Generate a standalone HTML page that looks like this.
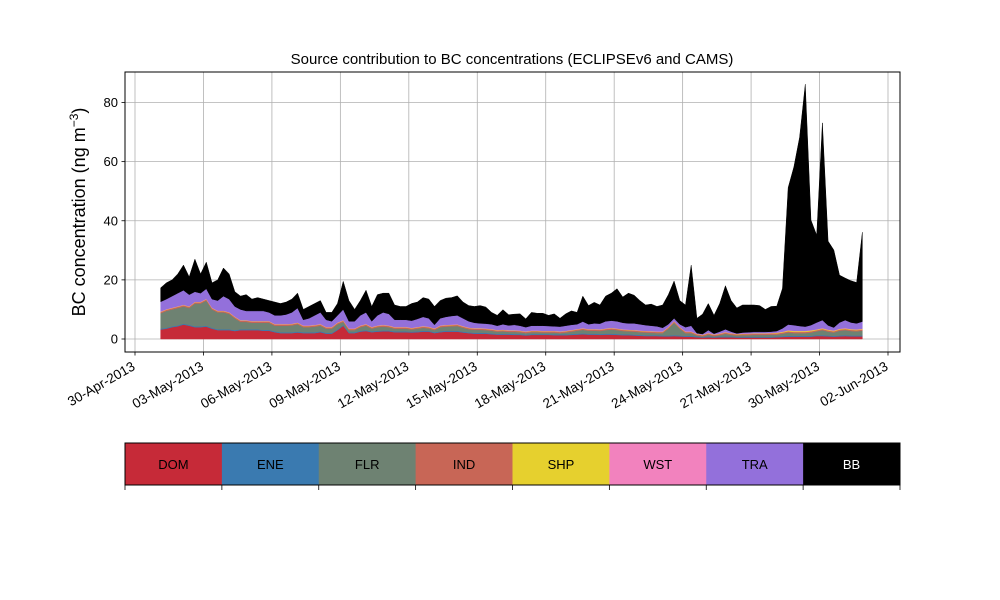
<!DOCTYPE html>
<html><head><meta charset="utf-8"><style>
body{margin:0;background:#fff;}
svg{display:block;font-family:"Liberation Sans","DejaVu Sans",sans-serif;}
</style></head><body>
<svg id="chart" width="1000" height="600" viewBox="0 0 1000 600">
<rect width="1000" height="600" fill="#fff"/>
<text x="512" y="64" font-size="15" text-anchor="middle">Source contribution to BC concentrations (ECLIPSEv6 and CAMS)</text>
<g id="grid"></g>
<g id="areas"></g>
<rect x="125" y="72" width="775" height="280" fill="none" stroke="#000" stroke-width="1"/>
<g id="axes"></g>
<text transform="translate(85,212) rotate(-90)" font-size="18" text-anchor="middle">BC concentration (ng m<tspan baseline-shift="super" font-size="12">−3</tspan>)</text>
<g id="legend"></g>
</svg>
<script>
const sources = ["DOM","ENE","FLR","IND","SHP","WST","TRA","BB"];
const colors = ["#c62a38","#3a7ab0","#6e8272","#c86656","#e6d02e","#f282be","#9370db","#000000"];
const startDay = 1.125; // days after 30-Apr-2013 00:00
const stepDay = 0.25;
const yTicks = [0,20,40,60,80];
const xTickLabels = ["30-Apr-2013","03-May-2013","06-May-2013","09-May-2013","12-May-2013","15-May-2013","18-May-2013","21-May-2013","24-May-2013","27-May-2013","30-May-2013","02-Jun-2013"];
const xTickDays = [0,3,6,9,12,15,18,21,24,27,30,33];
const DOM = [3.2,3.5,4.0,4.3,4.9,4.5,4.0,4.0,4.2,3.5,3.0,3.0,3.0,2.7,3.0,3.0,3.0,3.0,2.8,2.8,2.3,2.0,2.0,2.0,2.2,2.0,2.0,2.0,2.3,1.8,1.8,3.0,4.5,2.0,2.0,2.5,2.7,2.3,2.5,2.6,2.6,2.3,2.3,2.3,2.2,2.3,2.5,2.5,2.0,2.3,2.5,2.5,2.5,2.2,2.0,1.8,1.8,1.8,1.6,1.5,1.5,1.5,1.4,1.4,1.2,1.4,1.4,1.4,1.4,1.3,1.3,1.3,1.4,1.5,1.6,1.5,1.5,1.4,1.5,1.5,1.4,1.3,1.3,1.2,1.1,1.0,1.0,1.0,0.9,0.9,1.0,0.9,0.8,0.8,0.6,0.5,0.6,0.5,0.6,0.6,0.6,0.5,0.5,0.5,0.5,0.5,0.5,0.5,0.6,0.7,0.8,0.8,0.8,0.8,0.8,1.0,1.0,0.9,0.8,0.9,1.0,0.9,0.9,0.9];
const ENE = [0.3,0.3,0.3,0.3,0.3,0.3,0.3,0.3,0.3,0.3,0.3,0.3,0.3,0.3,0.3,0.3,0.3,0.3,0.3,0.3,0.3,0.3,0.3,0.3,0.3,0.3,0.3,0.3,0.3,0.3,0.3,0.3,0.3,0.3,0.3,0.3,0.3,0.3,0.3,0.3,0.3,0.3,0.3,0.3,0.3,0.3,0.3,0.3,0.3,0.3,0.3,0.3,0.3,0.3,0.3,0.3,0.3,0.3,0.3,0.3,0.3,0.3,0.3,0.3,0.3,0.3,0.3,0.3,0.3,0.3,0.3,0.3,0.3,0.3,0.3,0.3,0.3,0.3,0.3,0.3,0.3,0.3,0.3,0.3,0.3,0.3,0.3,0.3,0.3,0.3,0.3,0.3,0.3,0.3,0.3,0.3,0.3,0.3,0.3,0.3,0.3,0.3,0.3,0.3,0.3,0.3,0.3,0.3,0.3,0.3,0.3,0.3,0.3,0.3,0.3,0.3,0.3,0.3,0.3,0.3,0.3,0.3,0.3,0.3];
const FLR = [5.2,5.7,5.7,5.9,5.8,5.7,7.7,7.7,8.5,6.2,5.7,5.7,5.2,4.0,2.5,2.5,2.2,2.2,2.4,2.4,1.9,2.2,2.2,2.3,2.5,1.7,1.7,1.9,1.9,1.4,1.4,1.7,1.0,0.7,0.7,1.2,1.5,0.9,1.2,1.3,1.1,0.9,0.9,0.9,0.7,0.9,1.0,0.8,0.7,1.4,1.4,1.5,1.6,1.3,1.0,1.0,1.0,0.9,0.9,0.7,0.8,0.6,0.7,0.6,0.5,0.6,0.6,0.5,0.5,0.6,0.4,0.6,0.8,1.0,1.2,1.0,1.0,1.0,1.2,1.4,1.3,1.1,1.0,1.0,0.9,0.9,0.8,0.7,0.8,2.3,4.2,2.3,0.9,0.9,0.3,0.1,0.6,0.2,0.4,0.9,0.5,0.4,0.5,0.5,0.6,0.6,0.6,0.7,0.6,0.8,1.1,0.9,0.9,0.9,1.1,1.3,1.7,1.3,1.1,1.6,1.7,1.5,1.4,1.6];
const IND = [0.4,0.4,0.4,0.4,0.4,0.4,0.4,0.4,0.4,0.4,0.4,0.4,0.4,0.4,0.4,0.4,0.4,0.4,0.4,0.4,0.4,0.4,0.4,0.4,0.4,0.4,0.4,0.4,0.4,0.4,0.4,0.4,0.4,0.4,0.4,0.4,0.4,0.4,0.4,0.4,0.4,0.4,0.4,0.4,0.4,0.4,0.4,0.4,0.4,0.4,0.4,0.4,0.4,0.4,0.4,0.4,0.4,0.4,0.4,0.4,0.4,0.4,0.4,0.4,0.4,0.4,0.4,0.4,0.4,0.4,0.4,0.4,0.4,0.4,0.4,0.4,0.4,0.4,0.4,0.4,0.4,0.4,0.4,0.4,0.4,0.4,0.4,0.4,0.4,0.4,0.4,0.4,0.4,0.4,0.4,0.4,0.4,0.4,0.4,0.4,0.4,0.4,0.4,0.4,0.4,0.4,0.4,0.4,0.4,0.4,0.4,0.4,0.4,0.4,0.4,0.4,0.4,0.4,0.4,0.4,0.4,0.4,0.4,0.4];
const SHP = [0.1,0.1,0.1,0.1,0.1,0.1,0.1,0.1,0.1,0.1,0.1,0.1,0.1,0.1,0.1,0.1,0.1,0.1,0.1,0.1,0.1,0.1,0.1,0.1,0.1,0.1,0.1,0.1,0.1,0.1,0.1,0.1,0.1,0.1,0.1,0.1,0.1,0.1,0.1,0.1,0.1,0.1,0.1,0.1,0.1,0.1,0.1,0.1,0.1,0.1,0.1,0.1,0.1,0.1,0.1,0.1,0.1,0.1,0.1,0.1,0.1,0.1,0.1,0.1,0.1,0.1,0.1,0.1,0.1,0.1,0.1,0.1,0.1,0.1,0.1,0.1,0.1,0.1,0.1,0.1,0.1,0.1,0.1,0.1,0.1,0.1,0.1,0.1,0.1,0.1,0.1,0.1,0.1,0.1,0.1,0.1,0.1,0.1,0.1,0.1,0.1,0.1,0.1,0.1,0.1,0.1,0.1,0.1,0.2,0.2,0.3,0.3,0.3,0.3,0.3,0.2,0.2,0.2,0.2,0.2,0.2,0.2,0.2,0.2];
const WST = [0.1,0.1,0.1,0.1,0.1,0.1,0.1,0.1,0.1,0.1,0.1,0.1,0.1,0.1,0.1,0.1,0.1,0.1,0.1,0.1,0.1,0.1,0.1,0.1,0.1,0.1,0.1,0.1,0.1,0.1,0.1,0.1,0.1,0.1,0.1,0.1,0.1,0.1,0.1,0.1,0.1,0.1,0.1,0.1,0.1,0.1,0.1,0.1,0.1,0.1,0.1,0.1,0.1,0.1,0.1,0.1,0.1,0.1,0.1,0.1,0.1,0.1,0.1,0.1,0.1,0.1,0.1,0.1,0.1,0.1,0.1,0.1,0.1,0.1,0.1,0.1,0.1,0.1,0.1,0.1,0.1,0.1,0.1,0.1,0.1,0.1,0.1,0.1,0.1,0.1,0.1,0.1,0.1,0.1,0.1,0.1,0.1,0.1,0.1,0.1,0.1,0.1,0.1,0.1,0.1,0.1,0.1,0.1,0.1,0.1,0.1,0.1,0.1,0.1,0.1,0.1,0.1,0.1,0.1,0.1,0.1,0.1,0.1,0.1];
const TRA = [3.3,3.4,3.9,4.4,4.9,3.9,3.4,2.9,3.4,2.9,3.4,4.9,4.4,3.4,3.6,3.1,3.4,3.4,3.4,2.9,2.9,2.9,3.2,3.8,4.9,1.9,2.4,3.2,3.9,2.4,1.9,2.4,3.6,2.4,2.4,3.4,3.9,1.9,3.4,4.2,3.9,2.4,2.4,2.4,2.4,2.7,3.1,2.8,1.2,2.4,2.7,2.9,3.0,2.6,2.1,1.8,1.6,1.6,1.6,1.4,1.8,1.6,1.8,1.6,1.4,1.6,1.6,1.7,1.6,1.5,1.6,1.7,1.7,1.6,2.2,1.6,1.9,1.9,2.4,2.4,2.4,2.2,2.1,2.2,2.1,1.9,1.8,1.7,1.2,0.9,0.9,0.9,1.4,1.9,0.2,0.2,0.9,0.2,0.6,0.9,0.5,0.1,0.3,0.4,0.4,0.4,0.4,0.4,0.5,1.1,1.9,1.9,1.6,1.4,1.7,2.3,2.7,1.4,1.0,2.1,2.7,2.2,2.0,2.4];
const BB = [4.7,5.5,5.5,6.5,8.5,6,11,6.5,9,5.5,7,9.5,8.5,5,4.5,5.5,4,4.5,4,4,4.5,4,4.2,4.5,5,3.5,4,4,4,2.5,3,4,9.5,7,4,5,7.5,5,7,6.5,7,5,4.5,4.5,5.8,5.7,6.5,6.5,6.2,6,6.3,6.2,6.6,5.5,5.3,5.5,6,5.6,4,3.5,4.9,3.6,3.6,4,2.8,4.5,4.2,4.2,3.6,4.2,2.8,4,4.7,4,8.6,6.3,7.1,6.3,8.5,9.3,11,8.7,10.2,9.5,8,6.8,7.3,6.7,7.7,10,12.6,8,7.5,20.5,5,6.7,9,6.2,9.5,14.7,10.5,8.6,9.3,9.2,9.1,8.9,7.6,8.5,8.4,13.5,46.3,53.5,63.8,82,35.5,29.5,66.7,28.5,26.2,16,14.2,14.1,13.8,30.2];
const series = [DOM,ENE,FLR,IND,SHP,WST,TRA,BB];

const NS = "http://www.w3.org/2000/svg";
const PX0 = 125, PX1 = 900, PY0 = 72, PY1 = 352;
function xScale(day){ return 135 + (day) * (753/33); }
function yScale(v){ return 339 - v * (236.5/80); }
function mk(tag, attrs, parent){ const e = document.createElementNS(NS, tag); for (const k in attrs) e.setAttribute(k, attrs[k]); parent.appendChild(e); return e; }

const grid = document.getElementById('grid');
const axes = document.getElementById('axes');
yTicks.forEach(v => {
  const y = yScale(v);
  const gl = mk('line', {x1:PX0, x2:PX1, y1:y, y2:y, stroke:'#b0b0b0', 'stroke-width':0.8}, grid);
  
  
  const tk = mk('line', {x1:PX0-3.5, x2:PX0, y1:y, y2:y, stroke:'#000', 'stroke-width':0.8}, axes);
  
  
  const t = mk('text', {x:PX0-7, y:y+4.5, 'font-size':13, 'text-anchor':'end'}, axes);
  t.textContent = v;
  
  
});
xTickDays.forEach((d, i) => {
  const x = xScale(d);
  const gl = mk('line', {x1:x, x2:x, y1:PY0, y2:PY1, stroke:'#b0b0b0', 'stroke-width':0.8}, grid);
  
  
  const tk = mk('line', {x1:x, x2:x, y1:PY1, y2:PY1+3.5, stroke:'#000', 'stroke-width':0.8}, axes);
  
  
  const lx = x + 1, ly = PY1 + 17;
  const t = mk('text', {x:lx, y:ly, 'font-size':13.5, 'text-anchor':'end', transform:'rotate(-30 '+lx+' '+ly+')'}, axes);
  t.textContent = xTickLabels[i];
  
  
});

const areas = document.getElementById('areas');
const n = DOM.length;
let base = new Array(n).fill(0);
series.forEach((s, k) => {
  const top = base.map((b, i) => b + s[i]);
  let d = '';
  for (let i = 0; i < n; i++) d += (i ? 'L' : 'M') + xScale(startDay + i*stepDay).toFixed(2) + ',' + yScale(top[i]).toFixed(2);
  for (let i = n-1; i >= 0; i--) d += 'L' + xScale(startDay + i*stepDay).toFixed(2) + ',' + yScale(base[i]).toFixed(2);
  d += 'Z';
  const p = mk('path', {d:d, fill:colors[k], stroke:colors[k], 'stroke-width':0.5, 'stroke-linejoin':'round'}, areas);
  
  
  base = top;
});

const legend = document.getElementById('legend');
const LW = 775 / sources.length;
sources.forEach((s, k) => {
  const x = 125 + k*LW;
  const r = mk('rect', {x:x, y:443, width:LW+0.5, height:42, fill:colors[k]}, legend);
  
  
  const t = mk('text', {x:x+LW/2, y:469, 'font-size':13, 'text-anchor':'middle', fill: s === 'BB' ? '#fff' : '#000'}, legend);
  t.textContent = s;
  
  
});
for (let k = 0; k <= sources.length; k++) {
  const x = 125 + k*LW;
  const tk = mk('line', {x1:x, x2:x, y1:485, y2:490, stroke:'#000', 'stroke-width':0.8}, legend);
  
  
}
const fr = mk('rect', {x:125, y:443, width:775, height:42, fill:'none', stroke:'#000', 'stroke-width':1}, legend);


</script>
</body></html>
